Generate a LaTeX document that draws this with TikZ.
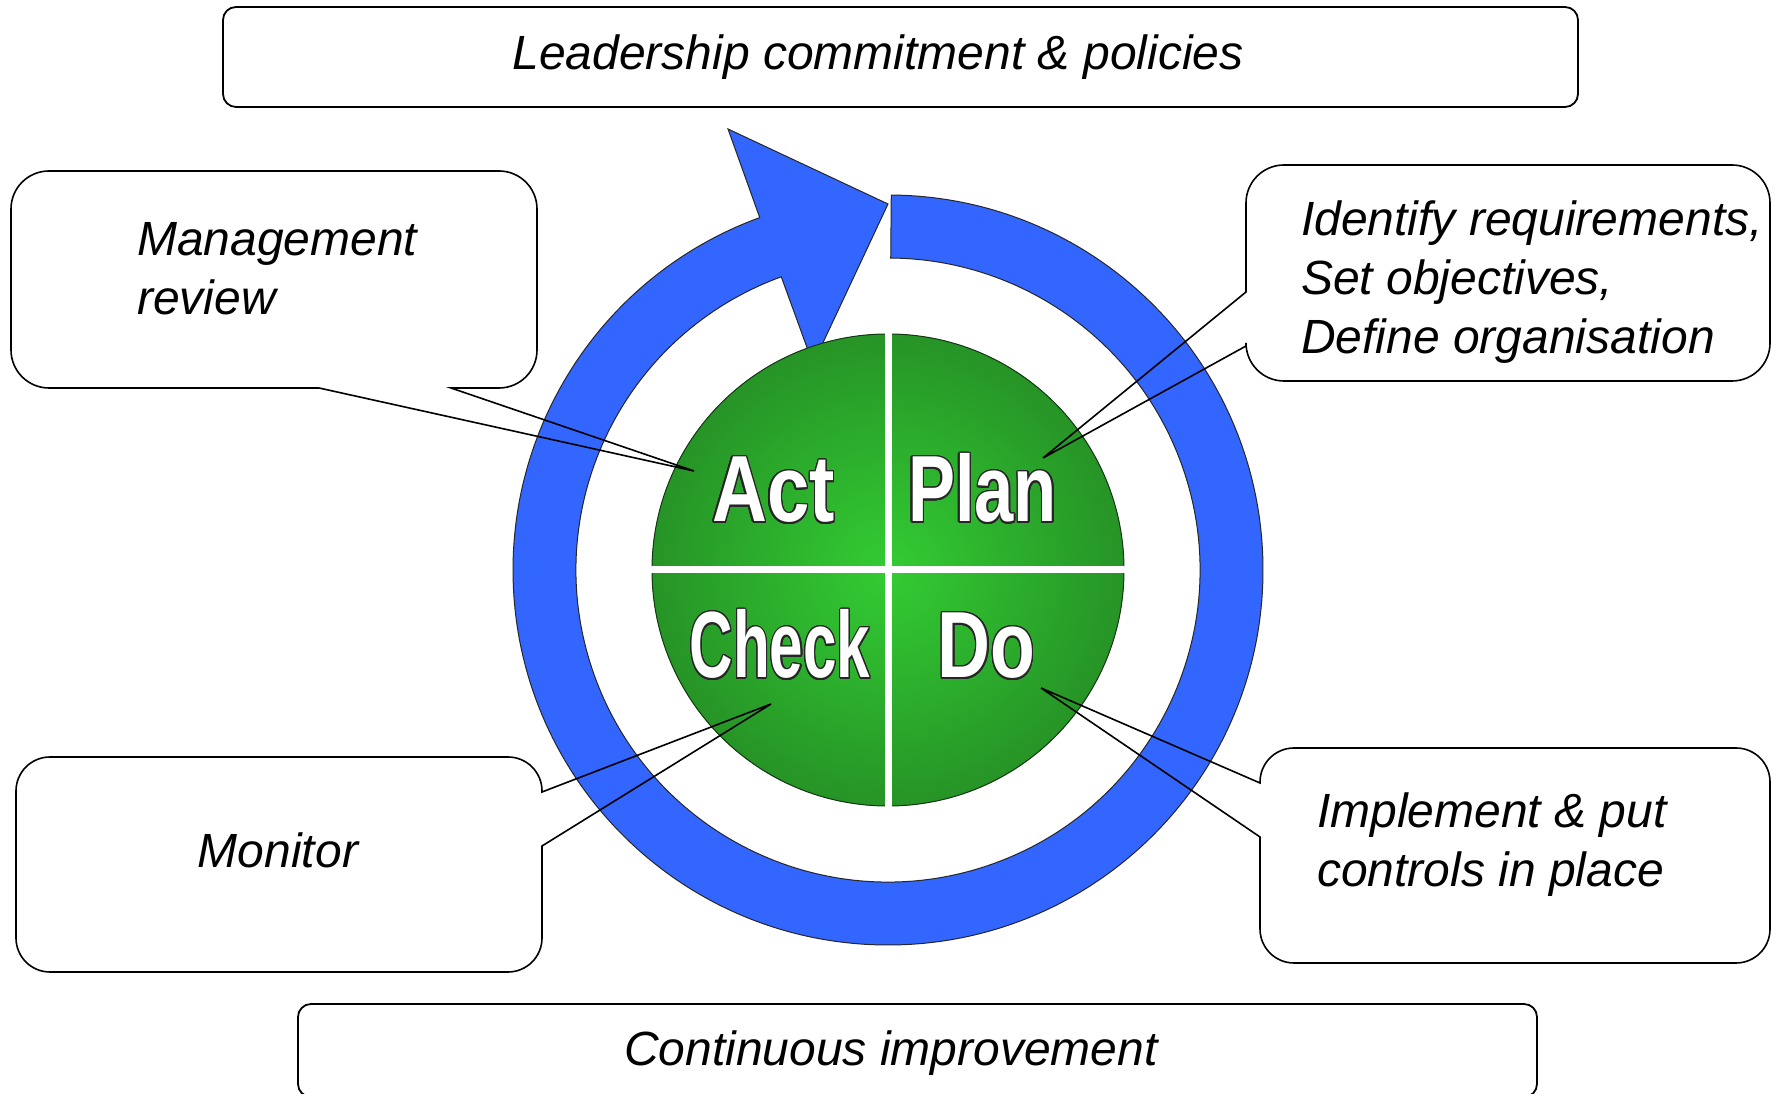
\documentclass[tikz,border=0pt]{standalone}
\usepackage{fontspec}
\setmainfont{Liberation Sans}
\usepackage{graphicx}
\usepackage{contour}
\definecolor{ringblue}{RGB}{51,102,255}
\definecolor{rimgreen}{RGB}{20,55,20}
\pgfdeclareradialshading{greenball}{\pgfpoint{0bp}{0bp}}{rgb(0bp)=(0.2,0.8,0.2); rgb(50bp)=(0.1,0.36,0.1)}
\contourlength{1.8pt}
\contournumber{24}
\tikzset{
  strip/.style={draw=black, line width=1.8pt, rounded corners=13pt},
  callout/.style={draw=black, line width=1.6pt, line join=miter},
  saytext/.style={font=\fontsize{48}{58.6}\selectfont\itshape, inner sep=0pt},
  pdca/.style={font=\fontsize{94}{100}\selectfont\bfseries, inner sep=0pt, anchor=base, text=white},
  ringstyle/.style={fill=ringblue, draw=black!85, line width=1pt, line join=miter},
}
\begin{document}
\begin{tikzpicture}[x=1pt,y=1pt]
\useasboundingbox (0,0) rectangle (1777,1094);
\fill[white] (0,0) rectangle (1777,1094);

% top and bottom strips
\draw[strip] (223,987) rectangle (1578,1087);
\node[saytext, anchor=base] (lead) at (878,1024) {Leadership commitment \& policies};
\draw[strip] (298,-3) rectangle (1537,90);
\node[saytext, anchor=base] (ci) at (891,28) {Continuous improvement};

% blue ring with arrow
\draw[ringstyle] ([shift={(888,524)}]89.5:375) arc[start angle=89.5, end angle=-250, radius=375]
  -- (728,965) -- (888,890) -- (813,730)
  -- ([shift={(888,524)}]110:312) arc[start angle=110, end angle=449.5, radius=312] -- cycle;

% green ball
\fill[shading=greenball] (888,524) circle[radius=236];
\draw[rimgreen, line width=1pt] (888,524) circle[radius=236];
\draw[white, line width=7pt] (648,524) -- (1128,524);
\draw[white, line width=7pt] (888,284) -- (888,764);

\node[pdca] (act) at (773.5,572) {\scalebox{0.81}[1]{\contour{black!85}{Act}}};
\node[pdca] (plan) at (982.5,572) {\scalebox{0.75}[1]{\contour{black!85}{Plan}}};
\node[pdca] (check) at (780,416) {\scalebox{0.64}[1]{\contour{black!85}{Check}}};
\node[pdca] (do) at (986.5,416) {\scalebox{0.78}[1]{\contour{black!85}{Do}}};

% callouts
\draw[callout] (319,706) [rounded corners=38pt] -- (11,706) -- (11,923) -- (537,923) -- (537,706) [sharp corners] -- (451,706) -- (694,623) -- cycle;
\node[saytext, anchor=base west] (mr) at (137,838) {\begin{tabular}[t]{@{}l@{}}Management\\review\end{tabular}};

\draw[callout] (1246,802) [rounded corners=38pt] -- (1246,929) -- (1770,929) -- (1770,713) -- (1246,713) [sharp corners] -- (1246,748) -- (1043,636) -- cycle;
\node[saytext, anchor=base west] (pl) at (1301,858) {\begin{tabular}[t]{@{}l@{}}Identify requirements,\\Set objectives,\\Define organisation\end{tabular}};

\draw[callout] (542,302) [rounded corners=34pt] -- (542,337) -- (16,337) -- (16,122) -- (542,122) [sharp corners] -- (542,248) -- (771,390) -- cycle;
\node[saytext, anchor=base] (mo) at (278,226) {Monitor};

\draw[callout] (1260,311) [rounded corners=34pt] -- (1260,346) -- (1770,346) -- (1770,131) -- (1260,131) [sharp corners] -- (1260,257) -- (1041,406) -- cycle;
\node[saytext, anchor=base west] (im) at (1317,266) {\begin{tabular}[t]{@{}l@{}}Implement \& put\\controls in place\end{tabular}};
\end{tikzpicture}
\end{document}
